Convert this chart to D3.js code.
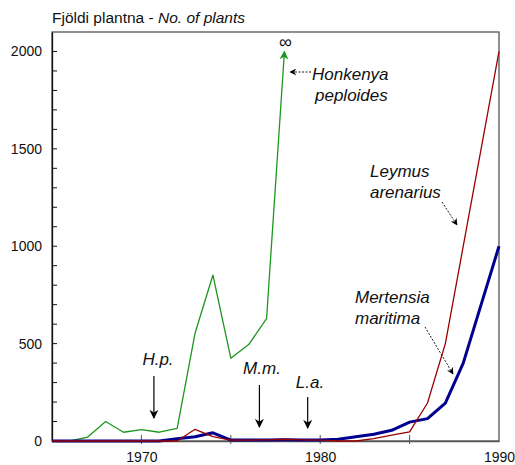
<!DOCTYPE html>
<html>
<head>
<meta charset="utf-8">
<script src="https://cdn.jsdelivr.net/npm/d3@7"></script>
<style>
  html, body { margin: 0; padding: 0; background: #fff; }
  svg { display: block; font-family: Arial, "Liberation Sans", sans-serif; }
</style>
</head>
<body>
<svg id="chart" width="515" height="465"></svg>
<script>
// Number of plants per year for three shore species
const years     = [1965,1966,1967,1968,1969,1970,1971,1972,1973,1974,1975,1976,1977,1978,
                   1979,1980,1981,1982,1983,1984,1985,1986,1987,1988,1989,1990];
const honkenya  = [0,0,20,100,45,58,45,65,553,852,425,495,628,2000];          // 1965–1978, then ∞
const mertensia = [0,0,0,0,0,0,0,12,22,42,5,5,5,6,5,5,9,22,35,55,97,115,195,400,700,1000];
const leymus    = [0,0,0,0,0,0,0,0,60,22,5,5,6,9,6,5,0,0,12,30,47,195,500,1000,1500,2000];

const yTicks      = [0,500,1000,1500,2000];
const xTickLabels = [1970,1980,1990];
const xTickMarks  = [1970,1975,1980,1985];

const svg = d3.select("#chart");
const M = {left: 52, right: 16, top: 32, bottom: 24};
const W = 515, H = 465;

const x = d3.scaleLinear().domain([1965, 1990]).range([M.left, W - M.right]);
const y = d3.scaleLinear().domain([0, 2100]).range([H - M.bottom, M.top]);

const defs = svg.append("defs");
defs.append("marker").attr("id", "greenHead")
  .attr("viewBox", "0 0 10 10").attr("refX", 9).attr("refY", 5)
  .attr("markerWidth", 9).attr("markerHeight", 9).attr("markerUnits", "userSpaceOnUse")
  .attr("orient", "auto")
  .append("path").attr("d", "M0,0 L10,5 L0,10 L3,5 Z").attr("fill", "#1e961e");
defs.append("marker").attr("id", "blackHead")
  .attr("viewBox", "0 0 10 10").attr("refX", 9).attr("refY", 5)
  .attr("markerWidth", 9).attr("markerHeight", 10).attr("markerUnits", "userSpaceOnUse")
  .attr("orient", "auto")
  .append("path").attr("d", "M0,0 L10,5 L0,10 L3,5 Z").attr("fill", "#000");
defs.append("marker").attr("id", "smallHead")
  .attr("viewBox", "0 0 10 10").attr("refX", 9).attr("refY", 5)
  .attr("markerWidth", 7).attr("markerHeight", 7).attr("markerUnits", "userSpaceOnUse")
  .attr("orient", "auto")
  .append("path").attr("d", "M0,0 L10,5 L0,10 L3,5 Z").attr("fill", "#000");

// Frame: top and right borders
svg.append("rect")
  .attr("x", M.left).attr("y", M.top)
  .attr("width", W - M.right - M.left).attr("height", H - M.bottom - M.top)
  .attr("fill", "none").attr("stroke", "#555").attr("stroke-width", 1.3);

// Y axis with inward minor ticks every 100
const yAxis = d3.axisLeft(y).tickValues(yTicks).tickSize(0).tickPadding(10).tickFormat(d3.format("d"));
const gy = svg.append("g").attr("transform", `translate(${M.left},0)`).call(yAxis);
gy.select(".domain").attr("stroke", "#111").attr("stroke-width", 1.3);
gy.selectAll("text").attr("font-size", 14).attr("fill", "#111")
  .attr("font-family", "Arial, 'Liberation Sans', sans-serif");
svg.append("g").selectAll("line").data(d3.range(100, 2100, 100)).join("line")
  .attr("x1", M.left).attr("x2", M.left + 5)
  .attr("y1", d => y(d)).attr("y2", d => y(d))
  .attr("stroke", "#111").attr("stroke-width", 1);

// X axis
const xAxis = d3.axisBottom(x).tickValues(xTickLabels).tickSize(0).tickPadding(11).tickFormat(d3.format("d"));
const gx = svg.append("g").attr("transform", `translate(0,${H - M.bottom})`).call(xAxis);
gx.select(".domain").attr("stroke", "#555").attr("stroke-width", 1.3);
gx.selectAll("text").attr("font-size", 14).attr("fill", "#111")
  .attr("font-family", "Arial, 'Liberation Sans', sans-serif");
svg.append("g").selectAll("line").data(xTickMarks).join("line")
  .attr("x1", d => x(d)).attr("x2", d => x(d))
  .attr("y1", H - M.bottom - 6).attr("y2", H - M.bottom + 3)
  .attr("stroke", "#555").attr("stroke-width", 1);

// Series lines
const line = d3.line().x(d => x(d[0])).y(d => y(d[1]));
const hData = honkenya.map((v, i) => [years[i], v]);
const mData = mertensia.map((v, i) => [years[i], v]);
const lData = leymus.map((v, i) => [years[i], v]);

svg.append("path").datum(hData).attr("d", line)
  .attr("fill", "none").attr("stroke", "#1e961e").attr("stroke-width", 1.3)
  .attr("stroke-linejoin", "round").attr("marker-end", "url(#greenHead)");
svg.append("path").datum(mData).attr("d", line)
  .attr("fill", "none").attr("stroke", "#000090").attr("stroke-width", 3)
  .attr("stroke-linejoin", "round");
svg.append("path").datum(lData).attr("d", line)
  .attr("fill", "none").attr("stroke", "#9b0000").attr("stroke-width", 1.3)
  .attr("stroke-linejoin", "round");

// Infinity sign above the last Honkenya point
const hLast = hData[hData.length - 1];
svg.append("text").attr("x", x(hLast[0]) + 1).attr("y", y(hLast[1]) - 3)
  .attr("text-anchor", "middle").attr("font-size", 18).attr("fill", "#111").text("∞");

// Title
const title = svg.append("text").attr("x", M.left).attr("y", 23)
  .attr("font-size", 15.5).attr("fill", "#111");
title.append("tspan").text("Fjöldi plantna - ");
title.append("tspan").attr("font-style", "italic").text("No. of plants");

// First-appearance arrows
const firstSeen = [
  {label: "H.p.", year: 1970.7, top: 376, tip: 418, tx: 158, ty: 365},
  {label: "M.m.", year: 1976.6, top: 385, tip: 427, tx: 262, ty: 374},
  {label: "L.a.", year: 1979.3, top: 397, tip: 428, tx: 310, ty: 388}
];
svg.append("g").selectAll("line").data(firstSeen).join("line")
  .attr("x1", d => x(d.year)).attr("x2", d => x(d.year))
  .attr("y1", d => d.top).attr("y2", d => d.tip)
  .attr("stroke", "#000").attr("stroke-width", 1.2)
  .attr("marker-end", "url(#blackHead)");
svg.append("g").selectAll("text").data(firstSeen).join("text")
  .attr("x", d => d.tx).attr("y", d => d.ty)
  .attr("text-anchor", "middle").attr("font-size", 17).attr("font-style", "italic")
  .attr("fill", "#111").text(d => d.label);

// Species labels with dotted pointers
const species = [
  {lines: ["Honkenya", "peploides"], tx: 312, ty: 80, dx: [0, 3], from: [311, 72], to: [290, 72]},
  {lines: ["Leymus", "arenarius"], tx: 370, ty: 177, dx: [0, 0], from: [442, 202], to: [457, 225]},
  {lines: ["Mertensia", "maritima"], tx: 355, ty: 303, dx: [0, 0], from: [425, 327], to: [453, 374]}
];
species.forEach(s => {
  const t = svg.append("text").attr("font-size", 17).attr("font-style", "italic").attr("fill", "#111");
  s.lines.forEach((ln, i) => {
    t.append("tspan").attr("x", s.tx + s.dx[i]).attr("y", s.ty + i * 21).text(ln);
  });
  svg.append("line")
    .attr("x1", s.from[0]).attr("y1", s.from[1]).attr("x2", s.to[0]).attr("y2", s.to[1])
    .attr("stroke", "#000").attr("stroke-width", 0.9).attr("stroke-dasharray", "2,1.5")
    .attr("marker-end", "url(#smallHead)");
});
</script>
</body>
</html>
